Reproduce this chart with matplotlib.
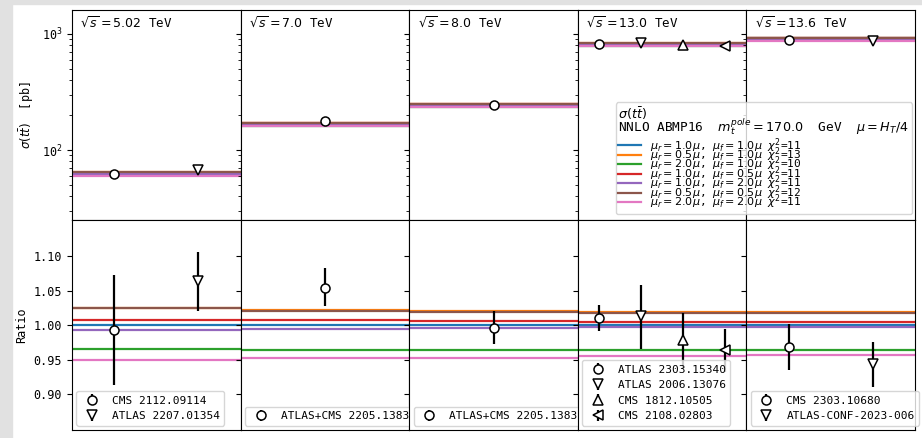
import matplotlib
matplotlib.use('Agg')
import numpy as np
import matplotlib.pyplot as plt
from matplotlib.patches import Rectangle

plt.rcParams['font.family'] = 'monospace'
plt.rcParams['font.size'] = 8.5

# centre-of-mass energies and central NNLO prediction (pb)
energies = ['5.02', '7.0', '8.0', '13.0', '13.6']
sigma_central = [63.0, 168.7, 245.2, 816.0, 912.0]

# scale variations: (mu_r, mu_f), chi2, ratio to central per energy
mu_r = ['1.0', '0.5', '2.0', '1.0', '1.0', '0.5', '2.0']
mu_f = ['1.0', '1.0', '1.0', '0.5', '2.0', '0.5', '2.0']
chi2 = [11, 13, 10, 11, 11, 12, 11]
scale_ratio = [
    [1.000, 1.000, 1.000, 1.000, 1.000],
    [1.025, 1.022, 1.021, 1.019, 1.019],
    [0.965, 0.964, 0.964, 0.964, 0.964],
    [1.008, 1.007, 1.006, 1.005, 1.005],
    [0.993, 0.995, 0.996, 0.997, 0.997],
    [1.025, 1.021, 1.019, 1.017, 1.017],
    [0.950, 0.952, 0.953, 0.956, 0.957],
]

# measurements, as ratio to the central prediction
meas_labels = [
    ['CMS 2112.09114', 'ATLAS 2207.01354'],
    ['ATLAS+CMS 2205.13830'],
    ['ATLAS+CMS 2205.13830'],
    ['ATLAS 2303.15340', 'ATLAS 2006.13076', 'CMS 1812.10505', 'CMS 2108.02803'],
    ['CMS 2303.10680', 'ATLAS-CONF-2023-006'],
]
meas_ratio = [[0.993, 1.064], [1.054], [0.996],
              [1.010, 1.013, 0.978, 0.964], [0.968, 0.944]]
meas_err_lo = [[0.080, 0.043], [0.027], [0.024],
               [0.018, 0.048, 0.040, 0.032], [0.033, 0.033]]
meas_err_hi = [[0.079, 0.042], [0.028], [0.024],
               [0.019, 0.045, 0.039, 0.031], [0.034, 0.031]]
markers = ['o', 'v', '^', '<']

colors = ['C0', 'C1', 'C2', 'C3', 'C4', 'C5', 'C6']

fig, axes = plt.subplots(2, 5, figsize=(9.22, 4.38), dpi=100, sharey='row')
fig.subplots_adjust(left=0.078, right=0.9925, top=0.977, bottom=0.018,
                    wspace=0, hspace=0)

for i, e in enumerate(energies):
    ax_t = axes[0, i]
    ax_b = axes[1, i]
    n = len(meas_labels[i])
    xs = np.arange(n) + 0.5

    for k in range(len(mu_r)):
        r = scale_ratio[k][i]
        lab = r'$\mu_r=%s\mu$, $\mu_f=%s\mu$ $\chi^2$=%d' % (mu_r[k], mu_f[k], chi2[k])
        ax_t.axhline(sigma_central[i] * r, color=colors[k], lw=1.6, label=lab)
        ax_b.axhline(r, color=colors[k], lw=1.6)

    for j in range(n):
        r = meas_ratio[i][j]
        ax_t.plot(xs[j], sigma_central[i] * r, marker=markers[j], ls='none',
                  mfc='white', mec='black', ms=6.5, mew=1.1, zorder=5)
        ax_b.errorbar(xs[j], r, yerr=[[meas_err_lo[i][j]], [meas_err_hi[i][j]]],
                      marker=markers[j], ls='none', color='black', mfc='white',
                      mec='black', ms=6.5, mew=1.1, elinewidth=1.6,
                      label=meas_labels[i][j], zorder=5)

    ax_t.set_xlim(0, n)
    ax_b.set_xlim(0, n)
    ax_t.set_xticks([])
    ax_b.set_xticks([])
    ax_t.text(0.05, 0.975, r'$\sqrt{s}=%s$ TeV' % e, transform=ax_t.transAxes,
              ha='left', va='top', fontsize=9)
    ax_b.legend(loc='lower left', fontsize=8, borderaxespad=0.4)

axes[0, 0].set_yscale('log')
axes[0, 0].set_ylim(25, 1600)
axes[1, 0].set_ylim(0.848, 1.152)
axes[1, 0].set_yticks([0.90, 0.95, 1.00, 1.05, 1.10])
axes[0, 0].set_ylabel(r'$\sigma(t\bar{t})$  [pb]')
axes[1, 0].set_ylabel('Ratio')

handles, labels = axes[0, 4].get_legend_handles_labels()
title = '$\\sigma(t\\bar{t})$\nNNLO ABMP16  $m_t^{pole}=170.0$  GeV  $\\mu=H_T/4$'
leg = axes[0, 4].legend(handles, labels, title=title, loc='lower right',
                        bbox_to_anchor=(0.982, 0.028), borderaxespad=0,
                        borderpad=0.25, fontsize=8, title_fontsize=9.2,
                        labelspacing=-0.82, alignment='left', handlelength=2.0)
leg.get_title().set_linespacing(0.65)
leg._legend_box.sep = -1

# light strips along the left and top edges
fig.patches.append(Rectangle((0, 0), 12 / 922, 1, transform=fig.transFigure,
                             color='#e1e1e1', zorder=-1))
fig.patches.append(Rectangle((0, 1 - 4 / 438), 1, 4 / 438, transform=fig.transFigure,
                             color='#e1e1e1', zorder=-1))

fig.savefig('out.png', dpi=100)
